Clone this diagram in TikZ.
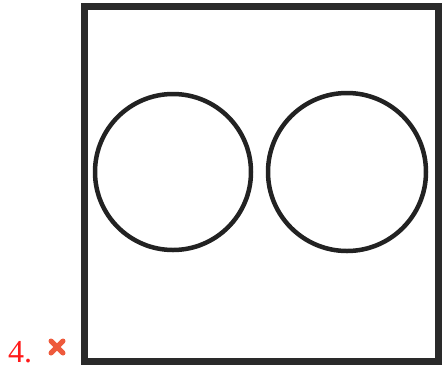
\documentclass[tikz,border=0pt]{standalone}
\usepackage{fontspec}
\setmainfont{Liberation Serif}
\usepackage{tikz}
\usetikzlibrary{positioning}
\definecolor{framedark}{HTML}{2A2A2A}
\definecolor{ringdark}{HTML}{222222}
\definecolor{numred}{HTML}{FF1A1A}
\definecolor{crossred}{HTML}{EE5A3C}

\begin{document}
\begin{tikzpicture}[
  x=1pt, y=-1pt,
  frm/.style={draw=framedark, line width=6.5pt},
  ring/.style={circle, draw=ringdark, line width=4.5pt, inner sep=0pt},
  num/.style={font=\fontsize{32}{32}\selectfont, color=numred, inner sep=0pt, anchor=base west},
  xmark/.style={crossred, line width=5pt, line cap=round}
]
\useasboundingbox (0,0) rectangle (442,368);
\draw[frm] (84.5,6.5) rectangle (438.5,361.5);
\node[ring, minimum size=156pt] (c1) at (173,172) {};
\node[ring, minimum size=158pt] (c2) at (347,172) {};
\node[num] (lbl) at (8,362.5) {4.};
\draw[xmark] (51,341) -- (63,353);
\draw[xmark] (63,341) -- (51,353);
\end{tikzpicture}
\end{document}
